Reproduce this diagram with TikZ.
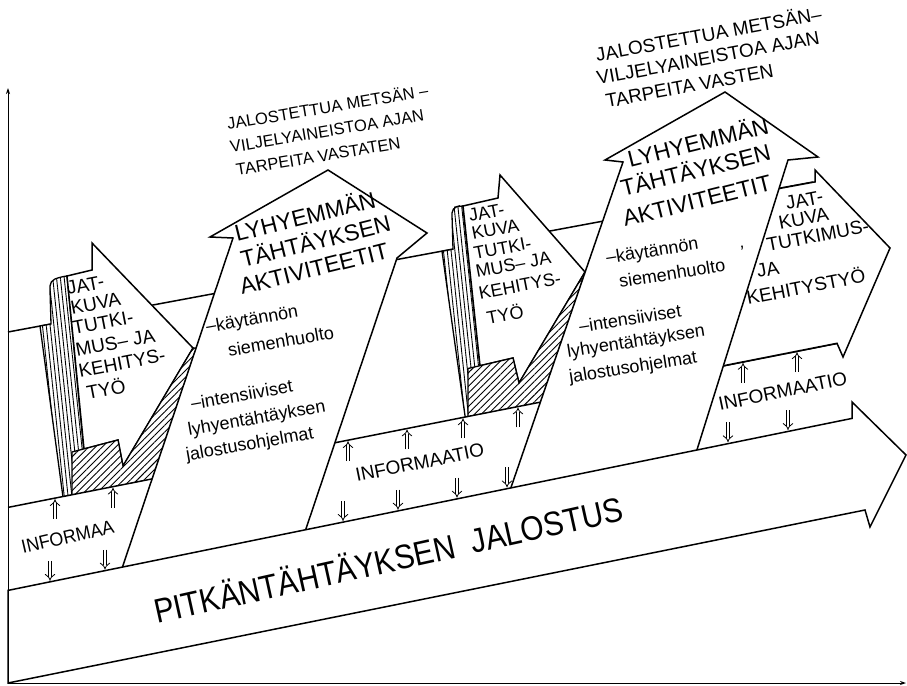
\documentclass[tikz,border=0pt]{standalone}
\usepackage{fontspec}
\setmainfont{Liberation Sans}
\usetikzlibrary{arrows.meta,patterns.meta}

\begin{document}
\begin{tikzpicture}[x=1pt,y=-1pt,
  panel/.style={draw, line width=1.5pt, fill=white},
  hatched/.style={draw, line width=1.3pt, preaction={fill=white}, pattern={Lines[angle=45,distance=4.8pt,line width=0.9pt]}},
  striped/.style={draw, line width=1.3pt, preaction={fill=white}, pattern={Lines[angle=96,distance=3.8pt,line width=0.9pt]}},
  infoarrow/.style={double, double distance=2.8pt, line width=0.8pt, -{Implies}},
  lbl/.style={inner sep=0pt, anchor=base west},
  headfont/.style={font=\fontsize{23}{23}\selectfont},
  midfont/.style={font=\fontsize{19}{19}\selectfont},
  subfont/.style={font=\fontsize{18}{18}\selectfont}]
\useasboundingbox (0,0) rectangle (907,685);

% ribbon behind everything
\draw[line width=1.5pt] (8,332) -- (813,182);

% JATKUVA 1
\draw[striped] (40,326) -- (51,324) -- (50,290) [rounded corners=5pt] -- (50,281) -- (60,277) [sharp corners] -- (67,276) -- (84,452) -- (84,512) -- (65,512) -- cycle;
\draw[panel] (67,276) -- (92,270) -- (92,243) -- (193,348) -- (123,466) -- (118,440) -- (84,449) -- cycle;
\draw[hatched] (72,452) -- (118,440) -- (123,466) -- (193,348) -- (200,348) -- (165,500) -- (72,500) -- cycle;

% JATKUVA 2
\draw[striped] (442,251.3) -- (453,249.2) -- (452,215) [rounded corners=5pt] -- (452,208) -- (459,206) [sharp corners] -- (463,206) -- (480,366) -- (480,430) -- (467,430) -- cycle;
\draw[panel] (463,206) -- (498,198) -- (500,175) -- (585,272) -- (519,383) -- (513,358) -- (480,365.7) -- cycle;
\draw[hatched] (468,368.5) -- (513,358) -- (519,383) -- (585,272) -- (595,272) -- (555,430) -- (468,430) -- cycle;

% information strip
\fill[white] (8,507.4) -- (838,343.3) -- (852,418.4) -- (8,590.4) -- cycle;
\draw[line width=1.5pt] (8,507.4) -- (838,343.3);

% JATKUVA 3
\draw[panel] (775,189.3) -- (815,181.9) -- (815,170) -- (890,248) -- (843,357) -- (837,343.3) -- (720,366.4) -- cycle;

% shorter-term arrows
\draw[panel] (119.8,575) -- (233,238) -- (210,237) -- (328,170) -- (427,233) -- (397,258) -- (303.9,535) -- cycle;
\draw[panel] (508.4,495) -- (623,162) -- (605,160) -- (725,92) -- (818,157) -- (788,160) -- (694.4,458) -- cycle;

% long-term arrow
\draw[panel] (8,590.4) -- (852,418.4) -- (852,402) -- (906,455) -- (870,527) -- (865,510) -- (8,683) -- cycle;

% axes
\draw[line width=1pt, -{Stealth[length=6pt,width=4pt]}] (8,684) -- (8,88);
\draw[line width=1pt, -{Stealth[length=6pt,width=4pt]}] (8,683) -- (906,683);

% information flow
\foreach \x in {55,113,348,407,463,518,743,797}
  \draw[infoarrow] ({\x},{507-0.198*(\x-10)+21}) -- ({\x},{507-0.198*(\x-10)+1});
\foreach \x in {50,105,343,398,457,507,728,788}
  \draw[infoarrow] ({\x},{590-0.2043*(\x-10)-21}) -- ({\x},{590-0.2043*(\x-10)-1});

% texts
\foreach \t/\x/\y [count=\i] in {JALOSTETTUA METSÄN –/228/130, VILJELYAINEISTOA AJAN/231/153, TARPEITA VASTATEN/237/176}
  \node[lbl, rotate=9.5, font=\fontsize{16.5}{16.5}\selectfont] (goalA\i) at (\x,\y) {\t};
\foreach \t/\x/\y [count=\i] in {JALOSTETTUA METSÄN–/597/62, VILJELYAINEISTOA AJAN/598/85, TARPEITA VASTEN/607/108}
  \node[lbl, rotate=10.5, midfont] (goalB\i) at (\x,\y) {\t};

\foreach \t/\x/\y [count=\i] in {LYHYEMMÄN/237/242, TÄHTÄYKSEN/243/268, AKTIVITEETIT/242/295}
  \node[lbl, rotate=14, headfont] (shortA\i) at (\x,\y) {\t};
\foreach \t/\x/\y [count=\i] in {LYHYEMMÄN/630/168, TÄHTÄYKSEN/623/197, AKTIVITEETIT/625/227}
  \node[lbl, rotate=14, headfont] (shortB\i) at (\x,\y) {\t};

\foreach \t/\x/\y [count=\i] in {–käytännön/207/333, siemenhuolto/229/357, –intensiiviset/192/410, lyhyentähtäyksen/189/436, jalostusohjelmat/187/461}
  \node[lbl, rotate=10, subfont] (actA\i) at (\x,\y) {\t};
\foreach \t/\x/\y [count=\i] in {–käytännön/607/264, siemenhuolto/620/288, –intensiiviset/580/333, lyhyentähtäyksen/568/358, jalostusohjelmat/570/383}
  \node[lbl, rotate=9, subfont] (actB\i) at (\x,\y) {\t};
\node[lbl, subfont] (tick) at (740,258) {’};

\foreach \t/\x/\y [count=\i] in {JAT-/68/295, KUVA/72/315, TUTKI-/74/335, MUS– JA/77/357, KEHITYS-/80/378, TYÖ/88/400}
  \node[lbl, rotate=11, midfont] (resA\i) at (\x,\y) {\t};
\foreach \t/\x/\y [count=\i] in {JAT-/470/222, KUVA/473/240, TUTKI-/475/260, MUS– JA/477/278, KEHITYS-/480/300, TYÖ/488/325}
  \node[lbl, rotate=11, font=\fontsize{18}{18}\selectfont] (resB\i) at (\x,\y) {\t};
\foreach \t/\x/\y [count=\i] in {JAT-/787/210, KUVA/780/230, TUTKIMUS-/768/252, JA/758/278, KEHITYSTYÖ/748/305}
  \node[lbl, rotate=11, midfont] (resC\i) at (\x,\y) {\t};

\node[lbl, rotate=13, xscale=0.94, midfont] (infoA) at (23,554) {INFORMAA};
\node[lbl, rotate=11.5, midfont] (infoB) at (357,482) {INFORMAATIO};
\node[lbl, rotate=11.7, midfont] (infoC) at (720,411) {INFORMAATIO};

\node[lbl, rotate=12.5, xscale=0.88, font=\fontsize{34}{34}\selectfont] (longterm) at (157,624) {PITKÄNTÄHTÄYKSEN\ \ JALOSTUS};
\end{tikzpicture}
\end{document}
